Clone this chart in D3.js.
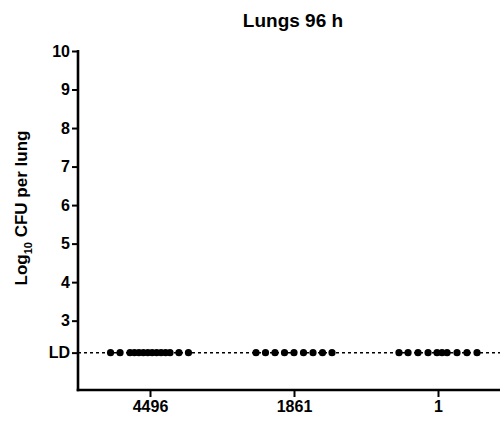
<!DOCTYPE html>
<html>
<head>
<meta charset="utf-8">
<script src="https://cdn.jsdelivr.net/npm/d3@7"></script>
<style>
  html, body { margin: 0; padding: 0; background: #fff; }
  svg { display: block; }
  text { font-family: "Liberation Sans", Arial, sans-serif; font-weight: bold; fill: #000; }
</style>
</head>
<body>
<svg id="chart" width="500" height="421"></svg>
<script>
// Inoculum groups (CFU) on the x axis
const categories = ["4496", "1861", "1"];
// Log10 CFU per lung for every animal; all below detection, plotted at LD
const detectionLimit = 2.17;
const group4496 = Array(14).fill(detectionLimit);
const group1861 = Array(9).fill(detectionLimit);
const group1 = Array(10).fill(detectionLimit);
// Horizontal scatter of each animal within its group (fraction of category step)
const scatter4496 = [-0.274, -0.208, -0.139, -0.108, -0.077, -0.046, -0.015, 0.015, 0.046, 0.077, 0.108, 0.139, 0.201, 0.267];
const scatter1861 = [-0.264, -0.198, -0.132, -0.066, 0, 0.066, 0.132, 0.198, 0.264];
const scatter1 = [-0.271, -0.208, -0.139, -0.069, -0.007, 0.028, 0.063, 0.132, 0.201, 0.271];
// Y axis tick values and labels
const yTicks = [3, 4, 5, 6, 7, 8, 9, 10];
const yDomain = [1.2, 10];
const title = "Lungs 96 h";

const groups = [
  { name: categories[0], values: group4496, scatter: scatter4496 },
  { name: categories[1], values: group1861, scatter: scatter1861 },
  { name: categories[2], values: group1, scatter: scatter1 }
];

const svg = d3.select("#chart");
const x = d3.scalePoint().domain(categories).range([78, 510]).padding(0.5);
const y = d3.scaleLinear().domain(yDomain).range([390, 51]);
const step = x.step();
const fontFamily = '"Liberation Sans", Arial, sans-serif';

// Title
svg.append("text")
  .attr("x", 293).attr("y", 27)
  .attr("text-anchor", "middle")
  .style("font-size", "19px")
  .text(title);

// Detection-limit dotted line
svg.append("line")
  .attr("x1", 78).attr("x2", 500)
  .attr("y1", y(detectionLimit)).attr("y2", y(detectionLimit))
  .attr("stroke", "#000").attr("stroke-width", 1.5)
  .attr("stroke-dasharray", "3,3");

// Y axis
const yAxis = d3.axisLeft(y)
  .tickValues(yTicks.concat([detectionLimit]))
  .tickFormat(d => d === detectionLimit ? "LD" : d3.format("d")(d))
  .tickSize(6).tickSizeOuter(0).tickPadding(2);
const gy = svg.append("g").attr("transform", "translate(78,0)").call(yAxis);
gy.select(".domain").attr("stroke-width", 2.6).attr("d", `M0,${y(10) - 1}V${y(yDomain[0]) + 1.3}`);
gy.selectAll(".tick line").attr("stroke-width", 2);
gy.selectAll(".tick text").style("font-size", "16px").style("font-weight", "bold")
  .style("font-family", fontFamily);

// X axis
const xAxis = d3.axisBottom(x).tickSize(7).tickSizeOuter(0).tickPadding(4);
const gx = svg.append("g").attr("transform", `translate(0,${y(yDomain[0])})`).call(xAxis);
gx.select(".domain").attr("stroke-width", 2.6).attr("d", "M76.7,0H500");
gx.selectAll(".tick line").attr("stroke-width", 2);
gx.selectAll(".tick text").style("font-size", "16px").style("font-weight", "bold")
  .style("font-family", fontFamily);

// Y axis title with subscript
const yt = svg.append("text")
  .attr("transform", `translate(27,${208}) rotate(-90)`)
  .attr("text-anchor", "middle")
  .style("font-size", "17px");
yt.append("tspan").text("Log");
yt.append("tspan").attr("dy", 5).style("font-size", "11px").text("10");
yt.append("tspan").attr("dy", -5).text(" CFU per lung");

// Animals
groups.forEach(g => {
  svg.append("g").selectAll("circle")
    .data(g.values.map((v, i) => ({ v, s: g.scatter[i] })))
    .join("circle")
    .attr("cx", d => x(g.name) + d.s * step)
    .attr("cy", d => y(d.v))
    .attr("r", 3.6)
    .attr("fill", "#000");
});
</script>
</body>
</html>
